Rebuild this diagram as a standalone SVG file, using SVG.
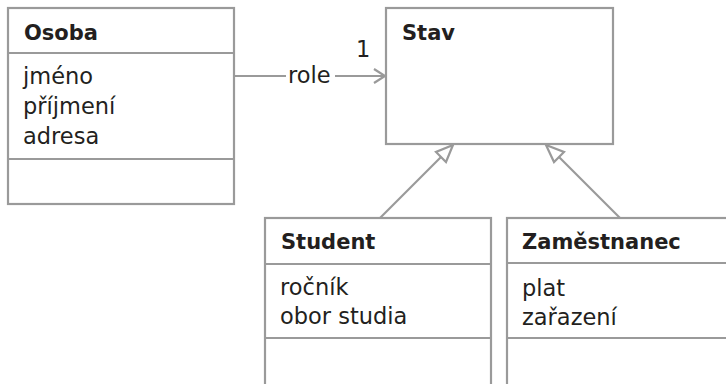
<svg xmlns="http://www.w3.org/2000/svg" width="726" height="384" viewBox="0 0 726 384">
  <style>
    .box { fill: #ffffff; stroke: #9a9a9a; stroke-width: 2.2; }
    .div { stroke: #9a9a9a; stroke-width: 2.2; }
    .edge { fill: none; stroke: #9a9a9a; stroke-width: 2.2; }
    .head { fill: #ffffff; stroke: #9a9a9a; stroke-width: 2.2; }
    .name { font-family: "DejaVu Sans", sans-serif; font-weight: bold; font-size: 21px; fill: #231f20; }
    .attr { font-family: "DejaVu Sans", sans-serif; font-size: 22.5px; fill: #231f20; }
  </style>

  <!-- connectors -->
  <g id="connectors">
    <!-- association Osoba -> Stav -->
    <line class="edge" x1="234" y1="76" x2="286" y2="76"/>
    <line class="edge" x1="335" y1="76" x2="385" y2="76"/>
    <polyline class="edge" points="374,69 385,76 374,83"/>
    <text class="attr" x="288" y="83">role</text>
    <text class="attr" x="356" y="57">1</text>
    <!-- generalization Student -> Stav -->
    <line class="edge" x1="380" y1="218" x2="441" y2="157"/>
    <polygon class="head" points="453,145 436,152 446,162"/>
    <!-- generalization Zaměstnanec -> Stav -->
    <line class="edge" x1="620" y1="218" x2="559" y2="157"/>
    <polygon class="head" points="546,145 554,162 564,152"/>
  </g>

  <g id="osoba">
    <rect class="box" x="8" y="8" width="226" height="196"/>
    <line class="div" x1="8" y1="53" x2="234" y2="53"/>
    <line class="div" x1="8" y1="159" x2="234" y2="159"/>
    <text class="name" x="24" y="40">Osoba</text>
    <text class="attr" x="23" y="84">jméno</text>
    <text class="attr" x="23" y="114">příjmení</text>
    <text class="attr" x="23" y="144">adresa</text>
  </g>

  <g id="stav">
    <rect class="box" x="386" y="8" width="227" height="136"/>
    <text class="name" x="402" y="40">Stav</text>
  </g>

  <g id="student">
    <rect class="box" x="265" y="218" width="226" height="170"/>
    <line class="div" x1="265" y1="264" x2="491" y2="264"/>
    <line class="div" x1="265" y1="338" x2="491" y2="338"/>
    <text class="name" x="281" y="249">Student</text>
    <text class="attr" x="280" y="295">ročník</text>
    <text class="attr" x="280" y="324">obor studia</text>
  </g>

  <g id="zamestnanec">
    <rect class="box" x="507" y="218" width="240" height="170"/>
    <line class="div" x1="507" y1="263" x2="747" y2="263"/>
    <line class="div" x1="507" y1="338" x2="747" y2="338"/>
    <text class="name" x="522" y="249">Zaměstnanec</text>
    <text class="attr" x="522" y="296">plat</text>
    <text class="attr" x="522" y="325">zařazení</text>
  </g>
</svg>
